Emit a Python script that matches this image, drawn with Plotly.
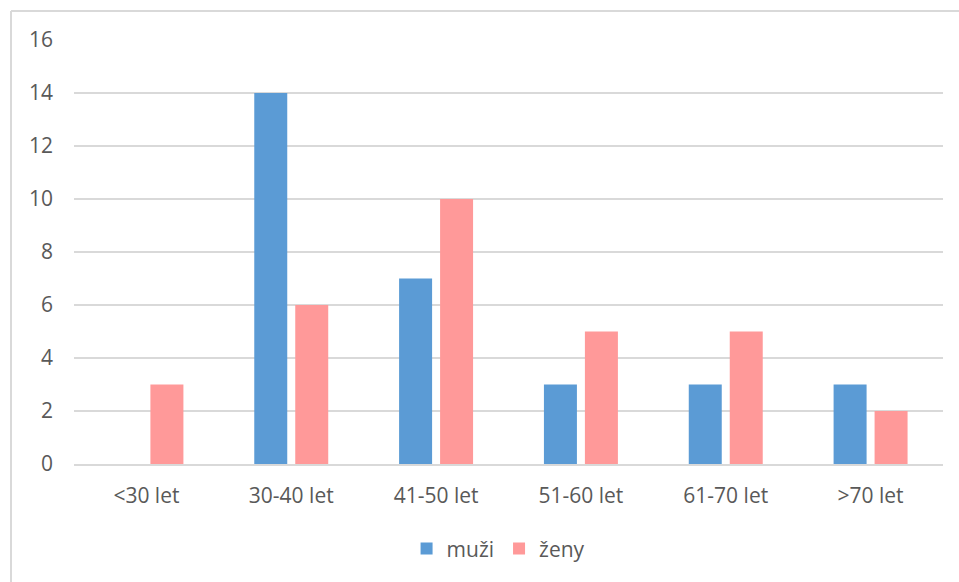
import plotly.graph_objects as go

# Age groups and respondent counts
age_groups = ["<30 let", "30-40 let", "41-50 let", "51-60 let", "61-70 let", ">70 let"]
muzi = [0, 14, 7, 3, 3, 3]
zeny = [3, 6, 10, 5, 5, 2]
y_ticks = [0, 2, 4, 6, 8, 10, 12, 14, 16]

BLUE = "#5B9BD5"
PINK = "#FF9999"
GRID = "#D9D9D9"
TEXT = "#595959"
FONT = "Open Sans, Liberation Sans, sans-serif"

fig = go.Figure()
fig.add_trace(go.Bar(x=age_groups, y=muzi, name="muži",
                     marker=dict(color=BLUE, line=dict(width=0))))
fig.add_trace(go.Bar(x=age_groups, y=zeny, name="ženy",
                     marker=dict(color=PINK, line=dict(width=0))))

W, H = 959, 582
L, R, T, B = 74, 16, 40, 118
pw, ph = W - L - R, H - T - B

# outer chart frame (top and left edges)
fx = (11 - L) / pw
fy = (H - B - 11) / ph
fig.add_shape(type="line", xref="paper", yref="paper", x0=fx, x1=1.2, y0=fy, y1=fy,
              line=dict(color=GRID, width=2), layer="below")
fig.add_shape(type="line", xref="paper", yref="paper", x0=fx, x1=fx, y0=fy, y1=-0.4,
              line=dict(color=GRID, width=2), layer="below")

fig.update_layout(
    width=W, height=H,
    margin=dict(l=L, r=R, t=T, b=B, autoexpand=False),
    paper_bgcolor="white", plot_bgcolor="white",
    barmode="group", bargap=0.434, bargroupgap=0.195,
    font=dict(family=FONT, size=21, color=TEXT),
    showlegend=True,
    legend=dict(orientation="h", x=0.488, xanchor="center", y=-0.2, yanchor="middle",
                font=dict(size=21, color=TEXT), itemwidth=30,
                traceorder="normal"),
    xaxis=dict(showgrid=False, showline=True, linecolor=GRID, linewidth=1.5,
               ticks="", ticklabelstandoff=12, tickfont=dict(size=21, color=TEXT)),
    yaxis=dict(range=[0, 16], tickvals=y_ticks, showgrid=True, gridcolor=GRID,
               gridwidth=1.5, zeroline=False, showline=False, ticks="",
               ticklabelstandoff=20, tickfont=dict(size=21, color=TEXT)),
)

fig.write_html("out.html")
